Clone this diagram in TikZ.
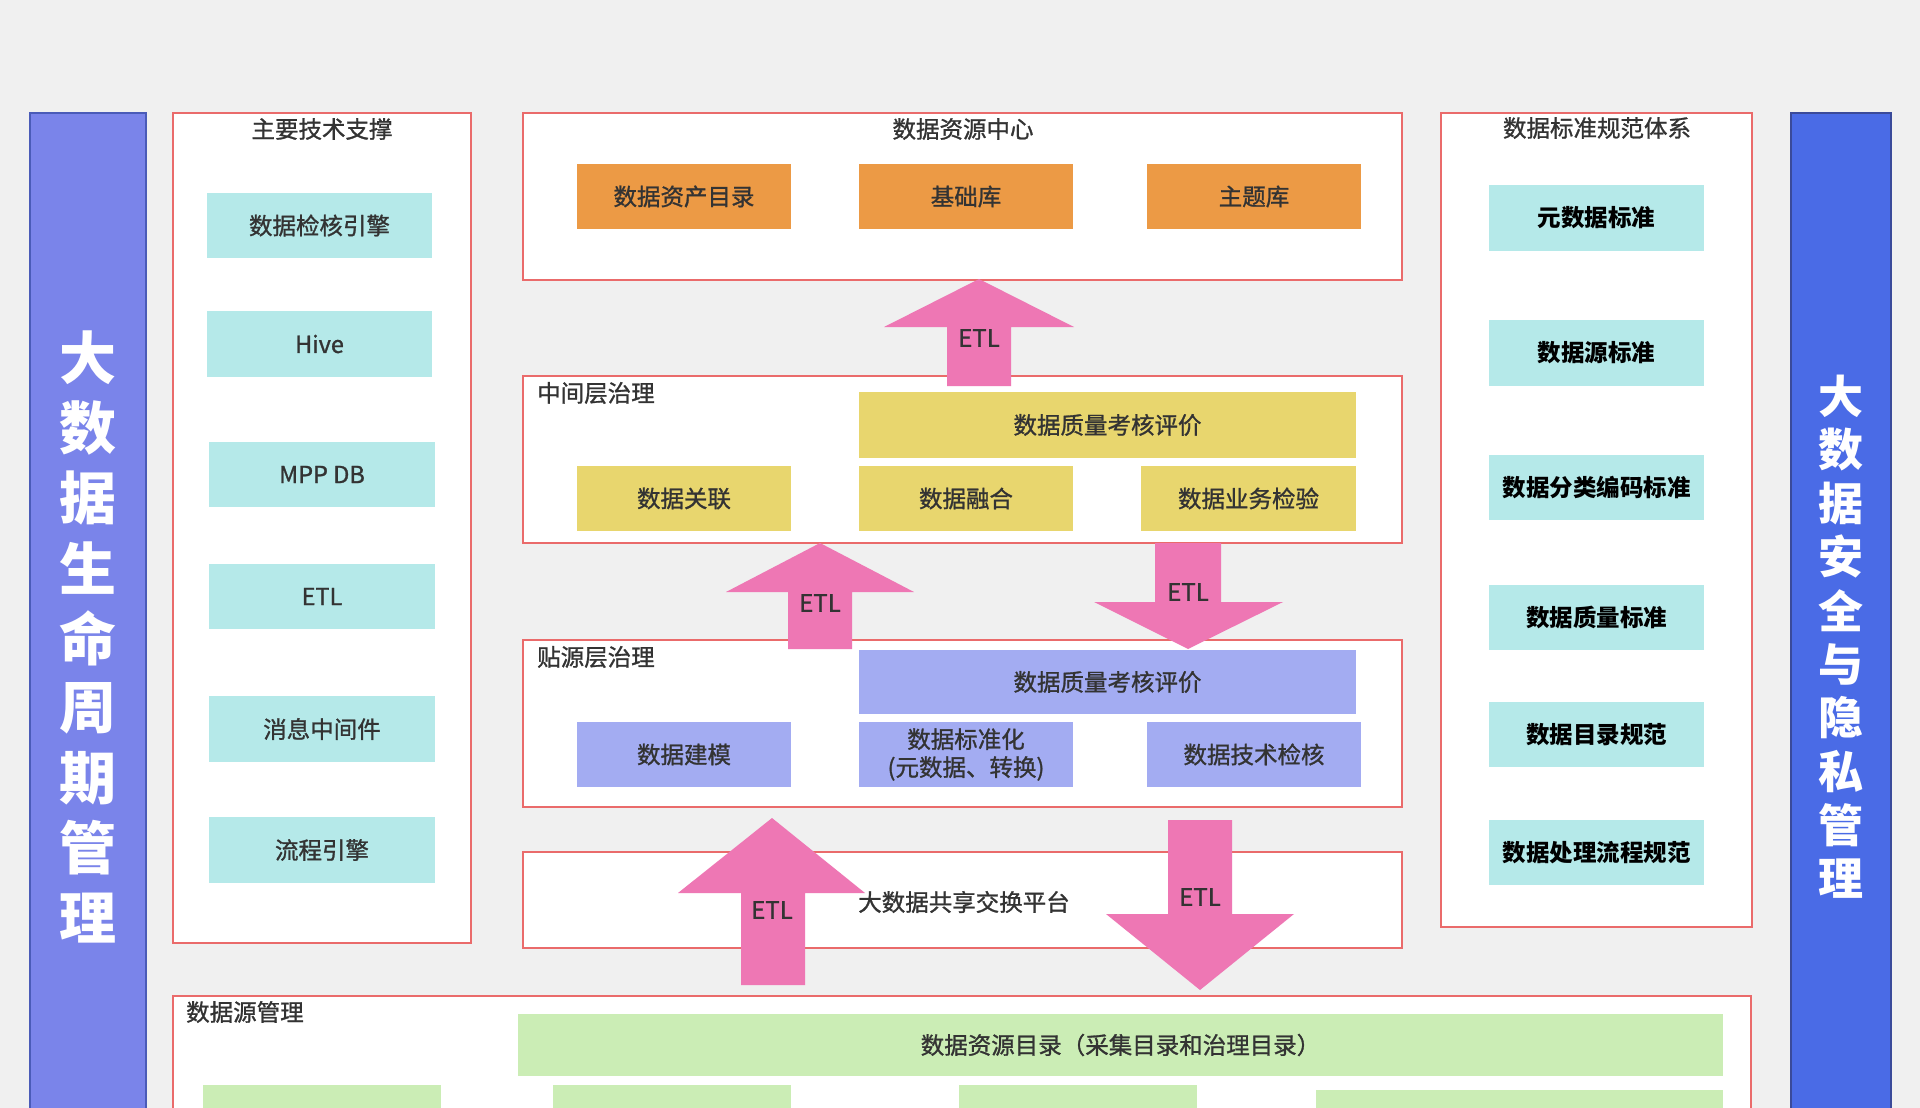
\documentclass[tikz,border=0pt]{standalone}
\usepackage{fontspec}
\setmainfont{Noto Sans CJK SC}
\newfontfamily\medfont{Noto Sans CJK SC}[FakeBold=1.1]
\definecolor{bgc}{HTML}{F0F0F0}
\definecolor{redb}{HTML}{EA6B6B}
\definecolor{cyanf}{HTML}{B5E9E9}
\definecolor{orangef}{HTML}{EC9A45}
\definecolor{yellowf}{HTML}{E8D66E}
\definecolor{purplef}{HTML}{A3ACF2}
\definecolor{greenf}{HTML}{CBEDB5}
\definecolor{pinkf}{HTML}{EE77B4}
\definecolor{lbar}{HTML}{7A84EA}
\definecolor{lbarb}{HTML}{4A5BB8}
\definecolor{rbar}{HTML}{4A6BE6}
\definecolor{rbarb}{HTML}{3A4A9A}
\definecolor{txt}{HTML}{333333}
\tikzset{
  container/.style={draw=redb, line width=2pt, fill=white},
  cell/.style={inner sep=0pt, anchor=center, text=txt, font=\medfont\fontsize{23.5}{27}\selectfont, align=center},
  cyanbox/.style={cell, fill=cyanf},
  orangebox/.style={cell, fill=orangef},
  yellowbox/.style={cell, fill=yellowf},
  purplebox/.style={cell, fill=purplef},
  greenbox/.style={cell, fill=greenf},
  stdbox/.style={cell, fill=cyanf, text=black, font=\fontsize{23.5}{27}\selectfont\bfseries},
  title/.style={inner sep=0pt, text=txt, font=\medfont\fontsize{23.5}{27}\selectfont},
  etl/.style={inner sep=0pt, text=txt, font=\medfont\fontsize{24}{27}\selectfont},
  pinkarrow/.style={fill=pinkf},
  bartext/.style={inner sep=0pt, text=white, font=\bfseries}
}
\begin{document}
\begin{tikzpicture}[x=1pt,y=-1pt]
\useasboundingbox (0,0) rectangle (1920,1108);
\fill[bgc] (0,0) rectangle (1920,1108);
\clip (0,0) rectangle (1920,1108);

% side bars
\draw[lbarb, fill=lbar, line width=1.5pt] (30,113) rectangle (146,1130);
\foreach \c [count=\i] in {大,数,据,生,命,周,期,管,理}
  \node[bartext, font=\fontsize{57}{60}\selectfont\bfseries] (L\i) at (88,{358+(\i-1)*70}) {\c};
\draw[rbarb, fill=rbar, line width=1.5pt] (1791,113) rectangle (1891,1130);
\foreach \c [count=\i] in {大,数,据,安,全,与,隐,私,管,理}
  \node[bartext, font=\fontsize{45}{48}\selectfont\bfseries] (R\i) at (1841,{396+(\i-1)*53.6}) {\c};

% left container
\draw[container] (173,113) rectangle (471,943);
\node[title] (tTech) at (322,129) {主要技术支撑};
\node[cyanbox, minimum width=225pt, minimum height=65pt] (t1) at (319.5,225.5) {数据检核引擎};
\node[cyanbox, minimum width=225pt, minimum height=66pt] (t2) at (319.5,344) {Hive};
\node[cyanbox, minimum width=226pt, minimum height=65pt] (t3) at (322,474.5) {MPP DB};
\node[cyanbox, minimum width=226pt, minimum height=65pt] (t4) at (322,596.5) {ETL};
\node[cyanbox, minimum width=226pt, minimum height=66pt] (t5) at (322,729) {消息中间件};
\node[cyanbox, minimum width=226pt, minimum height=66pt] (t6) at (322,850) {流程引擎};

% right container
\draw[container] (1441,113) rectangle (1752,927);
\node[title] (tStd) at (1597,128) {数据标准规范体系};
\node[stdbox, minimum width=215pt, minimum height=66pt] (s1) at (1596.5,218) {元数据标准};
\node[stdbox, minimum width=215pt, minimum height=66pt] (s2) at (1596.5,353) {数据源标准};
\node[stdbox, minimum width=215pt, minimum height=65pt] (s3) at (1596.5,487.5) {数据分类编码标准};
\node[stdbox, minimum width=215pt, minimum height=65pt] (s4) at (1596.5,617.5) {数据质量标准};
\node[stdbox, minimum width=215pt, minimum height=65pt] (s5) at (1596.5,734.5) {数据目录规范};
\node[stdbox, minimum width=215pt, minimum height=65pt] (s6) at (1596.5,852.5) {数据处理流程规范};

% center: resource center
\draw[container] (523,113) rectangle (1402,280);
\node[title] (tRes) at (963,129) {数据资源中心};
\node[orangebox, minimum width=214pt, minimum height=65pt] (o1) at (684,196.5) {数据资产目录};
\node[orangebox, minimum width=214pt, minimum height=65pt] (o2) at (966,196.5) {基础库};
\node[orangebox, minimum width=214pt, minimum height=65pt] (o3) at (1254,196.5) {主题库};

% middle layer
\draw[container] (523,376) rectangle (1402,543);
\node[title, anchor=west] (tMid) at (537,393) {中间层治理};
\node[yellowbox, minimum width=497pt, minimum height=66pt] (y0) at (1107.5,425) {数据质量考核评价};
\node[yellowbox, minimum width=214pt, minimum height=65pt] (y1) at (684,498.5) {数据关联};
\node[yellowbox, minimum width=214pt, minimum height=65pt] (y2) at (966,498.5) {数据融合};
\node[yellowbox, minimum width=215pt, minimum height=65pt] (y3) at (1248.5,498.5) {数据业务检验};

% source layer
\draw[container] (523,640) rectangle (1402,807);
\node[title, anchor=west] (tSrc) at (537,657) {贴源层治理};
\node[purplebox, minimum width=497pt, minimum height=64pt] (p0) at (1107.5,682) {数据质量考核评价};
\node[purplebox, minimum width=214pt, minimum height=65pt, font=\medfont\fontsize{23.5}{28}\selectfont] (p2) at (966,754.5) {数据标准化\\(元数据、转换)};
\node[purplebox, minimum width=214pt, minimum height=65pt] (p1) at (684,754.5) {数据建模};
\node[purplebox, minimum width=214pt, minimum height=65pt] (p3) at (1254,754.5) {数据技术检核};

% exchange platform
\draw[container] (523,852) rectangle (1402,948);
\node[title] (tEx) at (964,902) {大数据共享交换平台};

% data source management
\draw[container] (173,996) rectangle (1751,1140);
\node[title, anchor=west] (tDs) at (186,1012) {数据源管理};
\node[greenbox, minimum width=1205pt, minimum height=62pt] (g0) at (1120.5,1045) {数据资源目录（采集目录和治理目录）};
\fill[greenf] (203,1085) rectangle (441,1130);
\fill[greenf] (553,1085) rectangle (791,1130);
\fill[greenf] (959,1085) rectangle (1197,1130);
\fill[greenf] (1316,1090) rectangle (1723,1130);

% ETL block arrows
\fill[pinkarrow] (979,279) -- (1074,327) -- (1011,327) -- (1011,386) -- (947,386) -- (947,327) -- (884,327) -- cycle;
\node[etl] (e1) at (979,338) {ETL};
\fill[pinkarrow] (820,543) -- (914,592) -- (852,592) -- (852,649) -- (788,649) -- (788,592) -- (726,592) -- cycle;
\node[etl] (e2) at (820,603) {ETL};
\fill[pinkarrow] (1155,543) -- (1221,543) -- (1221,602) -- (1283,602) -- (1188,649) -- (1094,602) -- (1155,602) -- cycle;
\node[etl] (e3) at (1188,592) {ETL};
\fill[pinkarrow] (772,818) -- (865,893) -- (805,893) -- (805,985) -- (741,985) -- (741,893) -- (678,893) -- cycle;
\node[etl] (e4) at (772,910) {ETL};
\fill[pinkarrow] (1168,820) -- (1232,820) -- (1232,914) -- (1294,914) -- (1200,990) -- (1106,914) -- (1168,914) -- cycle;
\node[etl] (e5) at (1200,897) {ETL};
\end{tikzpicture}
\end{document}
